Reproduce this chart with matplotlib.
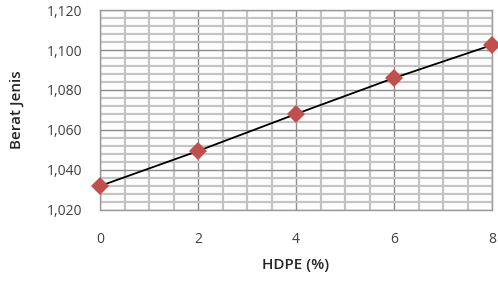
import matplotlib
matplotlib.use('Agg')
import matplotlib.pyplot as plt
from matplotlib.ticker import MultipleLocator, FuncFormatter

# Data
hdpe = [0, 2, 4, 6, 8]
berat_jenis = [1.032, 1.0495, 1.068, 1.086, 1.1025]
x_ticks = [0, 2, 4, 6, 8]

plt.rcParams['font.family'] = ['Open Sans', 'DejaVu Sans']

fig = plt.figure(figsize=(4.98, 2.81), dpi=100)
ax = fig.add_axes([0.2008, 0.2527, 0.7872, 0.7117])

ax.set_xlim(0, 8)
ax.set_ylim(1.020, 1.120)
ax.xaxis.set_major_locator(MultipleLocator(2))
ax.xaxis.set_minor_locator(MultipleLocator(0.5))
ax.yaxis.set_major_locator(MultipleLocator(0.02))
ax.yaxis.set_minor_locator(MultipleLocator(0.004))
ax.yaxis.set_major_formatter(FuncFormatter(lambda v, p: f"{v:.3f}".replace('.', ',')))
ax.set_xticks(x_ticks)

ax.grid(which='major', color='#8c8c8c', linewidth=1.0)
ax.grid(which='minor', color='#c4c4c4', linewidth=1.6)
ax.set_axisbelow(True)
for s in ax.spines.values():
    s.set_color('#9a9a9a')
    s.set_linewidth(1.0)

ax.tick_params(which='both', length=0, labelsize=10, colors='#404040')
ax.tick_params(axis='x', pad=16)
ax.tick_params(axis='y', pad=13)

ax.plot(hdpe, berat_jenis, color='black', linewidth=1.3, zorder=3)
ax.plot(hdpe, berat_jenis, linestyle='none', marker='D', markersize=9,
        color='#c0504d', markeredgewidth=0, zorder=4, clip_on=False)

ax.set_xlabel('HDPE (%)', fontsize=11, color='#262626', fontweight='semibold', labelpad=8)
ax.set_ylabel('Berat Jenis', fontsize=11, color='#262626', fontweight='semibold', labelpad=16)

fig.savefig('out.png', dpi=100)
